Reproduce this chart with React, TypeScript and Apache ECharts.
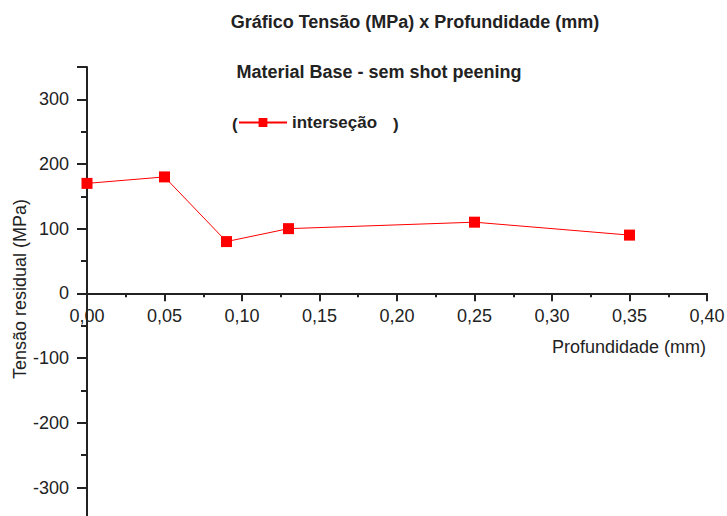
import React, { useEffect, useRef } from "react";
import * as echarts from "echarts";

// Depth (mm) and residual stress (MPa) at each measured point
const profundidade = [0, 0.05, 0.09, 0.13, 0.25, 0.35];
const tensao = [170, 180, 80, 100, 110, 90];

const titulo = "Gráfico Tensão (MPa) x Profundidade (mm)";
const subtitulo = "Material Base - sem shot peening";
const serieNome = "interseção";
const eixoX = "Profundidade (mm)";
const eixoY = "Tensão residual (MPa)";

const FONT = "'Liberation Sans', Arial, Helvetica, sans-serif";
const INK = "#222222";

// The stress axis runs from -350 to 350 and the depth axis crosses it at zero:
// the upper half (0..350) holds the series and the depth axis, the lower half
// (-350..0) continues the stress axis below it.
const TOP = 67;
const ZERO = 293.3;
const BOTTOM = 520;

export default function App() {
  const ref = useRef<HTMLDivElement>(null);

  useEffect(() => {
    if (!ref.current) return;
    const chart = echarts.init(ref.current, undefined, { renderer: "svg" });

    const axisLineStyle = { color: INK, width: 2 };
    const yLabel = { margin: 18, fontFamily: FONT, fontSize: 18, color: INK };

    chart.setOption({
      animation: false,
      backgroundColor: "#ffffff",
      textStyle: { fontFamily: FONT },
      grid: [
        { left: 87, right: 20, top: TOP, height: ZERO - TOP, outerBoundsMode: "none", containLabel: false },
        { left: 87, right: 20, top: ZERO, height: BOTTOM - ZERO, outerBoundsMode: "none", containLabel: false },
      ],
      legend: {
        left: 238,
        top: 114,
        padding: 0,
        itemWidth: 48,
        itemHeight: 11,
        itemGap: 0,
        textStyle: { fontFamily: FONT, fontSize: 17, fontWeight: "bold", color: INK },
        data: [serieNome],
      },
      xAxis: [
        {
          type: "value",
          gridIndex: 0,
          position: "bottom",
          min: 0,
          max: 0.4,
          interval: 0.05,
          axisLine: { onZero: false, lineStyle: axisLineStyle },
          axisTick: { show: true, inside: false, length: 8, lineStyle: axisLineStyle },
          minorTick: { show: true, splitNumber: 2, length: 4, lineStyle: axisLineStyle },
          splitLine: { show: false },
          axisLabel: {
            margin: 14,
            fontFamily: FONT,
            fontSize: 18,
            color: INK,
            formatter: (v: number) => v.toFixed(2).replace(".", ","),
          },
        },
        {
          type: "value",
          gridIndex: 1,
          min: 0,
          max: 0.4,
          show: false,
        },
      ],
      yAxis: [
        {
          type: "value",
          gridIndex: 0,
          min: 0,
          max: 350,
          splitNumber: 4,
          axisLine: { show: true, onZero: false, lineStyle: axisLineStyle },
          axisTick: { show: true, inside: false, length: 10, lineStyle: axisLineStyle },
          minorTick: { show: true, splitNumber: 2, length: 6, lineStyle: axisLineStyle },
          splitLine: { show: false },
          axisLabel: { ...yLabel, showMaxLabel: false },
        },
        {
          type: "value",
          gridIndex: 1,
          min: -350,
          max: 0,
          splitNumber: 4,
          axisLine: { show: true, onZero: false, lineStyle: axisLineStyle },
          axisTick: { show: true, inside: false, length: 10, lineStyle: axisLineStyle },
          minorTick: { show: true, splitNumber: 2, length: 6, lineStyle: axisLineStyle },
          splitLine: { show: false },
          axisLabel: { ...yLabel, showMinLabel: false, showMaxLabel: false },
        },
      ],
      series: [
        {
          name: serieNome,
          type: "line",
          xAxisIndex: 0,
          yAxisIndex: 0,
          data: profundidade.map((x, i) => [x, tensao[i]]),
          symbol: "rect",
          symbolSize: 11,
          clip: false,
          itemStyle: { color: "#ff0000" },
          lineStyle: { color: "#ff0000", width: 1 },
        },
      ],
      graphic: [
        {
          type: "text",
          x: 415,
          y: 22,
          style: {
            text: titulo,
            font: `bold 18px ${FONT}`,
            fill: INK,
            textAlign: "center",
            textVerticalAlign: "middle",
          },
        },
        {
          type: "text",
          x: 379,
          y: 72,
          style: {
            text: subtitulo,
            font: `bold 18px ${FONT}`,
            fill: INK,
            textAlign: "center",
            textVerticalAlign: "middle",
          },
        },
        {
          type: "text",
          x: 232,
          y: 124,
          style: { text: "(", font: `bold 17px ${FONT}`, fill: INK, textVerticalAlign: "middle" },
        },
        {
          type: "text",
          x: 393,
          y: 124,
          style: { text: ")", font: `bold 17px ${FONT}`, fill: INK, textVerticalAlign: "middle" },
        },
        {
          type: "text",
          x: 706,
          y: 347,
          style: {
            text: eixoX,
            font: `18px ${FONT}`,
            fill: INK,
            textAlign: "right",
            textVerticalAlign: "middle",
          },
        },
        {
          type: "text",
          x: 20,
          y: 289,
          rotation: Math.PI / 2,
          style: {
            text: eixoY,
            font: `18px ${FONT}`,
            fill: INK,
            textAlign: "center",
            textVerticalAlign: "middle",
          },
        },
      ],
    });
    return () => chart.dispose();
  }, []);

  return <div ref={ref} style={{ width: 727, height: 516, position: "absolute", left: 0, top: 0 }} />;
}
